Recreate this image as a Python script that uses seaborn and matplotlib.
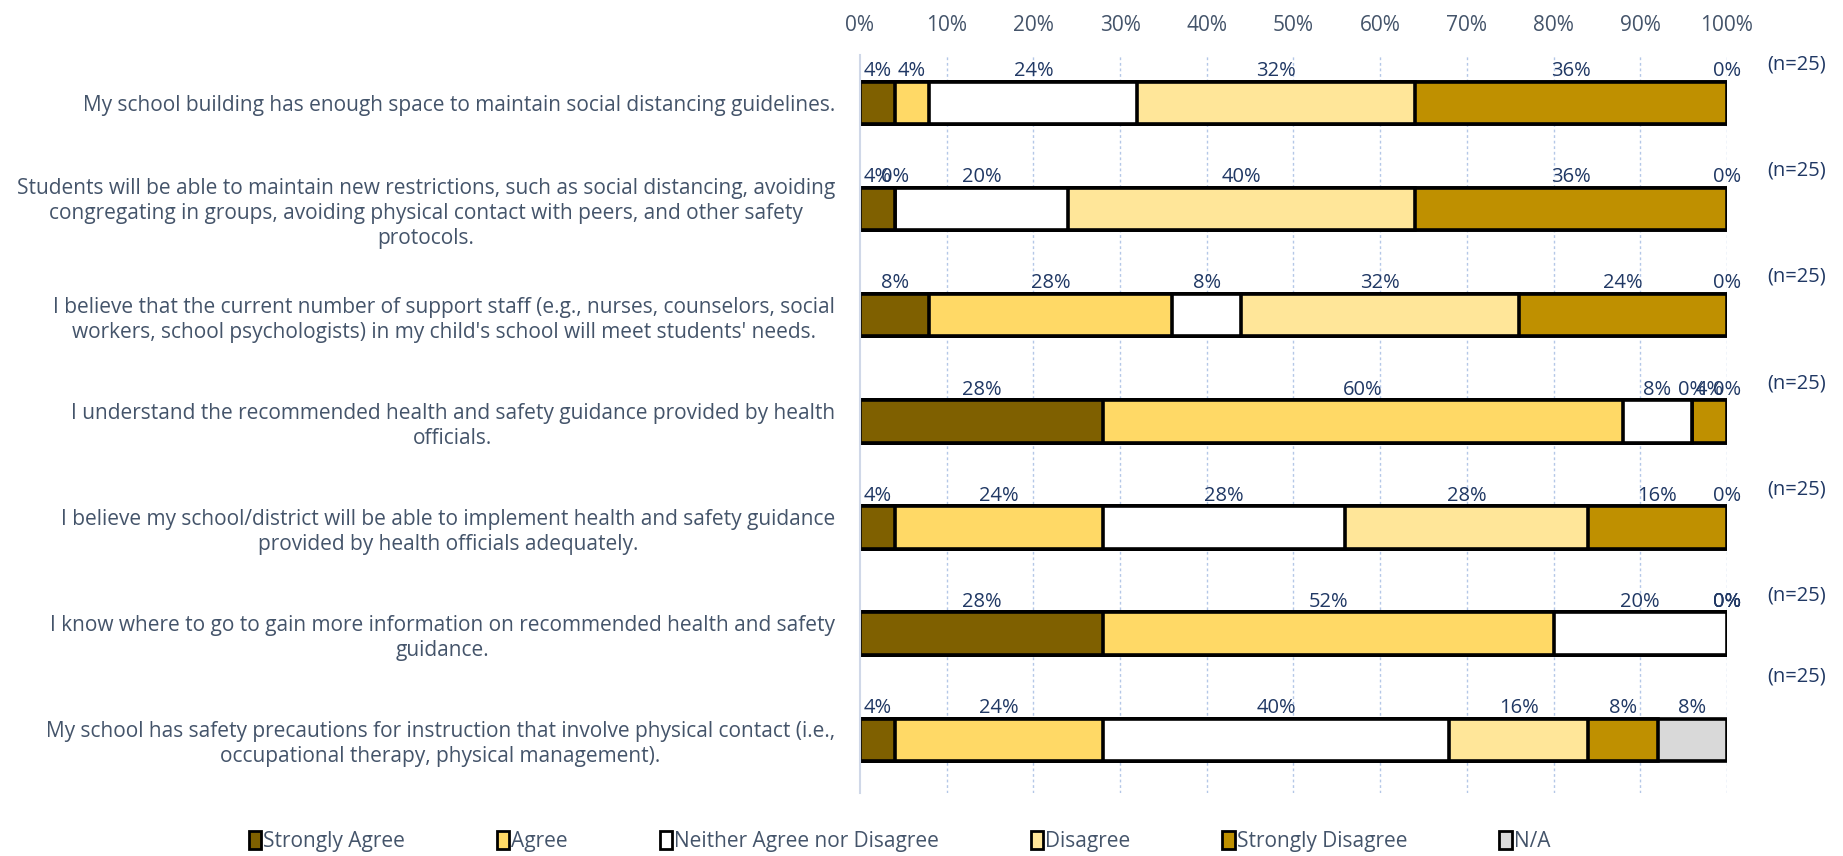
import matplotlib
matplotlib.use("Agg")
import matplotlib.pyplot as plt
from matplotlib import font_manager
from matplotlib.patches import Patch
import seaborn as sns
import pandas as pd
import numpy as np

questions = [
    "My school building has enough space to maintain social distancing guidelines.",
    "Students will be able to maintain new restrictions, such as social distancing, avoiding\ncongregating in groups, avoiding physical contact with peers, and other safety\nprotocols.",
    "I believe that the current number of support staff (e.g., nurses, counselors, social\nworkers, school psychologists) in my child's school will meet students' needs.",
    "I understand the recommended health and safety guidance provided by health\nofficials.",
    "I believe my school/district will be able to implement health and safety guidance\nprovided by health officials adequately.",
    "I know where to go to gain more information on recommended health and safety\nguidance.",
    "My school has safety precautions for instruction that involve physical contact (i.e.,\noccupational therapy, physical management).",
]
responses = ["Strongly Agree", "Agree", "Neither Agree nor Disagree",
             "Disagree", "Strongly Disagree", "N/A"]
strongly_agree = [4, 4, 8, 28, 4, 28, 4]
agree = [4, 0, 28, 60, 24, 52, 24]
neither = [24, 20, 8, 8, 28, 20, 40]
disagree = [32, 40, 32, 0, 28, 0, 16]
strongly_disagree = [36, 36, 24, 4, 16, 0, 8]
not_applicable = [0, 0, 0, 0, 0, 0, 8]
n_labels = ["(n=25)"] * 7
x_ticks = [0, 10, 20, 30, 40, 50, 60, 70, 80, 90, 100]

colors = ["#7F6000", "#FFD966", "#FFFFFF", "#FFE699", "#BF9000", "#D9D9D9"]

avail = {f.name for f in font_manager.fontManager.ttflist}
fam = "Liberation Sans Narrow" if "Liberation Sans Narrow" in avail else "Open Sans"

sns.set_theme(style="white")
plt.rcParams["font.family"] = [fam, "DejaVu Sans"]

label_col = "#44546A"
data_col = "#203864"

series = [strongly_agree, agree, neither, disagree, strongly_disagree, not_applicable]
vals = np.array(series, dtype=float)  # shape (6, 7)
cum = np.cumsum(vals, axis=0)

fig = plt.figure(figsize=(18.43, 8.56), dpi=100)
ax = fig.add_axes([0.4666, 0.0736, 0.4704, 0.8621])

# draw cumulative bars, widest first
for k in range(len(responses) - 1, -1, -1):
    df = pd.DataFrame({"q": questions, "v": cum[k]})
    sns.barplot(data=df, x="v", y="q", orient="h", order=questions,
                color=colors[k], saturation=1, width=0.4,
                edgecolor="black", linewidth=2.6, ax=ax)

ax.set_xlim(0, 100)
ax.set_ylim(6.5, -0.45)
ax.xaxis.tick_top()
ax.set_xticks(x_ticks)
ax.set_xticklabels([f"{t}%" for t in x_ticks], fontsize=15, color=label_col)
ax.tick_params(axis="x", length=0, pad=14)
ax.tick_params(axis="y", length=0, pad=18)
ax.set_yticks(range(len(questions)))
ax.set_yticklabels(questions, fontsize=15, color=label_col)
for t in ax.get_yticklabels():
    t.set_multialignment("center")
    t.set_linespacing(1.25)
ax.set_xlabel("")
ax.set_ylabel("")
for s in ["top", "right", "bottom"]:
    ax.spines[s].set_visible(False)
ax.spines["left"].set_color("#D0D8E8")
ax.spines["left"].set_linewidth(1.5)
for xv in x_ticks[1:]:
    ax.axvline(xv, color="#B4C7E7", lw=1, ls=(0, (2, 2)), zorder=0)
ax.set_axisbelow(True)

# data labels
for i in range(len(questions)):
    left = 0.0
    for k in range(len(responses)):
        v = vals[k, i]
        ax.text(left + v / 2, i - 0.2 - 0.005, f"{int(v)}%", ha="center", va="bottom",
                fontsize=14.5, color=data_col)
        left += v
    off = 0.6 if i == len(questions) - 1 else 0.36
    ax.text(108, i - off, n_labels[i], ha="center", va="center",
            fontsize=14.5, color=data_col, clip_on=False)

handles = [Patch(facecolor=c, edgecolor="black", linewidth=2.0) for c in colors]
leg = fig.legend(handles, responses, loc="center", bbox_to_anchor=(0.488, 0.017),
                 ncol=6, frameon=False, fontsize=15, handlelength=0.6,
                 handleheight=1.0, handletextpad=0.1, columnspacing=4.4)
for t in leg.get_texts():
    t.set_color(label_col)

fig.savefig("out.png", dpi=100)
